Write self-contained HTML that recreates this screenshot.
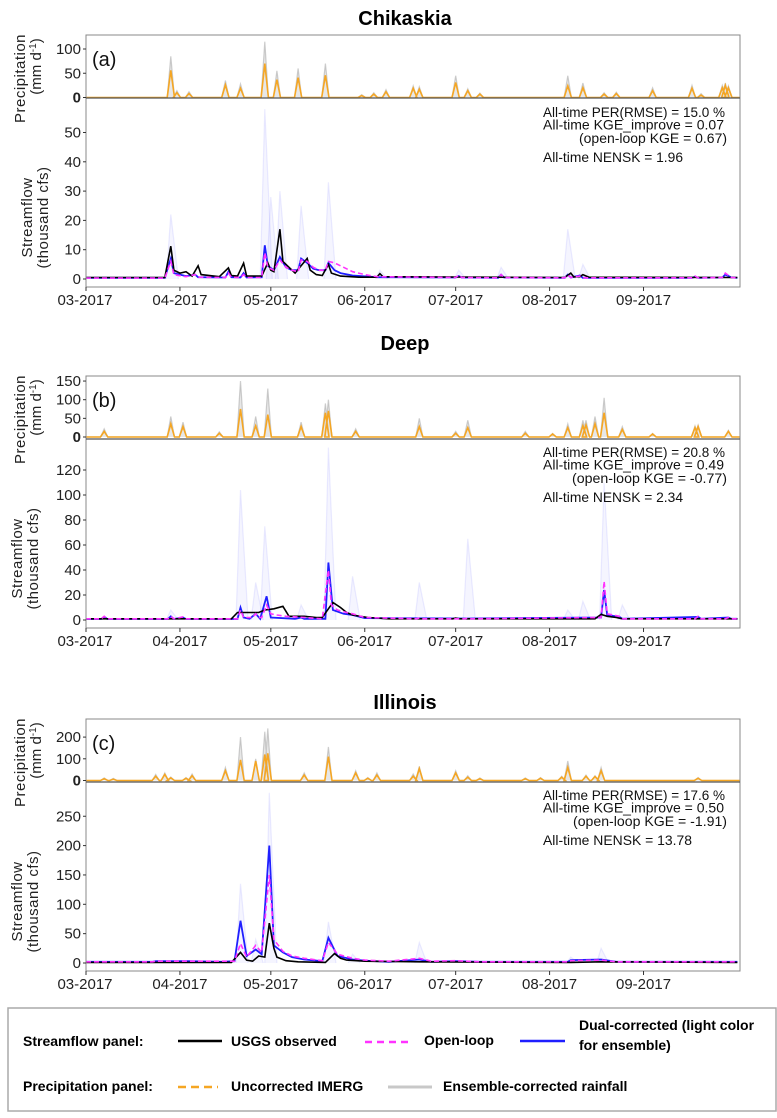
<!DOCTYPE html>
<html><head><meta charset="utf-8"><style>
html,body{margin:0;padding:0;background:#fff;}
svg{display:block;font-family:"Liberation Sans",sans-serif;}
</style></head><body>
<svg id="fig" width="777" height="1118" viewBox="0 0 777 1118" xmlns="http://www.w3.org/2000/svg"></svg>
<script>
// ---------- DATA ----------
const monthLabels = ["03-2017","04-2017","05-2017","06-2017","07-2017","08-2017","09-2017"];
const monthDays = [0,31,61,92,122,153,184];
const panelTitles = ["Chikaskia","Deep","Illinois"];
const panelLetters = ["(a)","(b)","(c)"];
const precipTicksA = [0,50,100];
const precipTicksB = [0,50,100,150];
const precipTicksC = [0,100,200];
const flowTicksA = [0,10,20,30,40,50];
const flowTicksB = [0,20,40,60,80,100,120];
const flowTicksC = [0,50,100,150,200,250];
const statsA = ["All-time PER(RMSE) = 15.0 %","All-time KGE_improve = 0.07","(open-loop KGE = 0.67)","All-time NENSK = 1.96"];
const statsB = ["All-time PER(RMSE) = 20.8 %","All-time KGE_improve = 0.49","(open-loop KGE = -0.77)","All-time NENSK = 2.34"];
const statsC = ["All-time PER(RMSE) = 17.6 %","All-time KGE_improve = 0.50","(open-loop KGE = -1.91)","All-time NENSK = 13.78"];

// precipitation events: [day, IMERG, ensemble max]
const precipA = [[28,56,85],[30,10,14],[34,8,12],[46,26,35],[51,19,28],[59,70,115],[63,37,55],[70,41,60],[79,46,70],[91,4,6],[95,7,10],[99,12,16],[108,19,24],[110,17,22],[122,31,45],[126,14,18],[130,7,9],[159,24,45],[164,20,30],[171,7,10],[175,8,11],[187,14,20],[200,19,25],[203,5,8],[210,20,25],[211,25,30],[212,20,24]];
const precipB = [[6,15,22],[28,35,55],[32,28,40],[44,10,14],[51,75,150],[56,30,55],[60,60,130],[71,28,40],[79,65,90],[80,70,100],[89,15,22],[110,28,50],[122,10,15],[126,25,45],[145,10,15],[154,8,10],[159,25,35],[164,30,45],[165,32,45],[168,35,55],[171,65,105],[177,20,28],[187,8,10],[201,25,30],[202,28,32],[212,15,18]];
const precipC = [[6,8,12],[9,6,10],[23,20,28],[26,28,35],[28,12,16],[33,10,14],[35,22,30],[46,45,60],[51,95,200],[56,90,100],[59,120,225],[60,125,240],[72,25,35],[80,110,155],[89,35,45],[93,10,14],[96,25,35],[108,20,30],[110,55,65],[122,35,45],[126,15,22],[130,8,12],[145,8,12],[150,10,14],[157,15,20],[159,60,90],[165,20,25],[168,18,22],[170,45,60],[202,10,14]];

// streamflow series: [day, thousand cfs]
const obsA = [[0,.5],[26,.5],[28,11.2],[29,3],[31,2],[33,2.5],[35,1],[37,4.5],[38,1.5],[44,.8],[47,3.8],[48,1.2],[50,1],[52,5.4],[53,1],[58,1],[60,5.5],[61,3],[62,2.5],[64,17],[65,6],[67,4],[69,2],[71,4.5],[73,7],[74,3],[76,1.5],[78,1.2],[80,5],[81,2],[84,1],[90,.6],[96,.6],[97,1.8],[98,.8],[158,.5],[160,2],[161,.7],[163,.8],[164,1.5],[166,.6],[215,.5]];
const olA = [[0,.3],[26,.3],[28,6],[29,1.5],[33,.8],[36,1.5],[37,.6],[46,.5],[47,2],[48,.6],[51,.5],[52,1.5],[53,.5],[58,.5],[59,9],[60,4],[62,3],[64,6.5],[66,4],[68,3],[70,2.5],[71,6.5],[73,6],[75,4],[77,3],[79,3],[80,6],[82,5.5],[85,4],[88,2.5],[92,1.5],[96,.8],[122,.5],[123,1.3],[124,.5],[136,.4],[137,1.5],[138,.5],[158,.4],[159,1.3],[160,.5],[163,1],[164,.4],[200,.4],[201,1],[202,.4],[210,.5],[211,2],[213,.5],[215,.4]];
const dcA = [[0,.4],[26,.4],[28,7],[29,2],[33,1],[36,1.5],[37,.6],[46,.5],[47,2.5],[48,.6],[51,.5],[52,2],[53,.5],[58,.6],[59,11.5],[60,4.5],[62,3],[64,7.5],[66,4],[68,3],[70,3],[71,7],[73,5.5],[75,3.5],[77,3],[79,3],[80,5.5],[82,3],[84,2],[88,1.2],[96,.6],[122,.5],[123,1],[124,.5],[136,.4],[137,1.5],[138,.5],[158,.4],[159,1.5],[160,.5],[163,1.2],[164,.4],[200,.4],[201,.8],[202,.4],[210,.5],[211,1.5],[213,.5],[215,.4]];
// ensemble spread peaks: [day, max value]
const ensA = [[28,22],[59,58],[61,28],[64,30],[71,25],[80,33],[97,3],[123,3],[137,4],[159,17],[164,5]];
const ensB = [[28,8],[51,104],[56,30],[59,75],[71,12],[80,138],[88,35],[110,30],[126,65],[159,8],[164,15],[171,110],[177,12]];
const ensC = [[51,135],[56,40],[60.5,290],[80,70],[88,15],[110,35],[160,10],[170,25]];

const obsB = [[0,1],[48,1],[50,6],[55,6],[57,6],[59,8],[62,9],[65,11],[67,3],[72,3],[76,2],[78,2],[80,9],[81.5,14],[84,10],[86,6],[88,4],[93,2],[100,1],[121,1],[122,1.5],[123,1],[168,1],[170,4.5],[172,3],[175,2],[177,1],[215,1]];
const olB = [[0,1],[5,1],[6,3],[7,1],[27,1],[28,3],[29,1],[32,2.5],[33,1],[50,1],[51,8],[52,2],[55,2],[56,5],[57,2],[58,2],[59.6,12],[61,5],[63,4],[66,3],[72,2],[78,1],[80,40],[81,12],[83,8],[86,6],[88,5],[92,2],[109,1],[110,1.5],[111,1],[125,1],[126,1.5],[127,1],[170,2],[171,31],[172,5],[176,3],[177,1],[201,1],[202,3],[203,1],[211,1],[212,2],[213,1],[215,1]];
const dcB = [[0,.8],[5,.8],[6,2.5],[7,.8],[27,.8],[28,3],[29,.8],[32,2],[33,.8],[50,.8],[51,10],[52,2],[54,1],[56,5],[57.5,1],[59.6,19],[61,2],[69,1],[71,2],[72,1],[79,1],[80,46],[81.5,8],[85,5],[88,4],[92,1.5],[126,1.2],[170,2],[171,24],[172,4],[176,2.5],[177,1],[202,2.5],[203,1],[212,2],[213,1],[215,1]];

const obsC = [[0,1],[48,1],[51,18],[53,5],[55,3],[57,12],[59,10],[60.5,68],[62,25],[63,10],[66,4],[70,2],[79,1],[82,16],[84,8],[86,5],[92,3],[110,2],[160,1],[170,2],[215,1]];
const olC = [[0,2],[22,2],[23,3],[34,3],[45,3],[49,3],[51,33],[53,10],[56,30],[58,18],[60.5,150],[62,40],[65,20],[68,12],[72,8],[78,4],[80,35],[83,15],[88,8],[92,5],[100,3],[110,8],[114,3],[122,4],[130,2],[159,2],[160,4],[170,5],[175,2],[215,2]];
const dcC = [[0,2],[22,2],[23,3],[34,3],[45,2],[49,3],[51,72],[53,12],[56,23],[58,15],[60.5,200],[62,30],[65,18],[68,10],[72,6],[78,3],[80,43],[83,12],[88,6],[92,4],[100,2],[110,6],[114,2],[122,3],[130,2],[159,2],[160,5],[170,6],[175,2],[215,2]];

// ---------- RENDER ----------
const NS = "http://www.w3.org/2000/svg";
const svg = document.getElementById("fig");
function mk(tag, attrs, parent){
  const e = document.createElementNS(NS, tag);
  for (const k in attrs) e.setAttribute(k, attrs[k]);
  (parent||svg).appendChild(e);
  return e;
}
const X0 = 86, X1 = 740, PXD = 3.03;
function xs(d){ return X0 + d*PXD; }

const panels = [
 {id:"a", titleY:25, pTop:35, div:98, pZero:97.5, pScale:0.485, sZero:279, sScale:2.93, bottom:287, dateY:305,
  pt:precipTicksA, ft:flowTicksA, precip:precipA, obs:obsA, ol:olA, dc:dcA, ens:ensA, stats:statsA, statY:112, title:panelTitles[0], letter:panelLetters[0], sTitleX:32},
 {id:"b", titleY:350, pTop:376, div:439, pZero:437, pScale:0.373, sZero:620, sScale:1.25, bottom:628, dateY:646,
  pt:precipTicksB, ft:flowTicksB, precip:precipB, obs:obsB, ol:olB, dc:dcB, ens:ensB, stats:statsB, statY:452, title:panelTitles[1], letter:panelLetters[1], sTitleX:22},
 {id:"c", titleY:709, pTop:719, div:782, pZero:780.5, pScale:0.217, sZero:963, sScale:0.587, bottom:971, dateY:989,
  pt:precipTicksC, ft:flowTicksC, precip:precipC, obs:obsC, ol:olC, dc:dcC, ens:ensC, stats:statsC, statY:795, title:panelTitles[2], letter:panelLetters[2], sTitleX:22}
];
const statLens = [[182,181,148,140],[182,181,155,140],[182,181,154,149]];

const defs = mk("defs", {});
panels.forEach((p,pi) => {
  const g = mk("g", {});
  
  
  const cp = mk("clipPath", {id:"cp"+p.id}, defs);
  mk("rect", {x:X0, y:p.pTop, width:X1-X0, height:p.div-p.pTop}, cp);
  const cs = mk("clipPath", {id:"cs"+p.id}, defs);
  mk("rect", {x:X0, y:p.div+1, width:X1-X0, height:p.bottom-p.div-1}, cs);

  const t = mk("text", {x:405, y:p.titleY, "text-anchor":"middle", "font-size":"20", "font-weight":"bold"}, g);
  t.textContent = p.title;
  
  

  const py = v => p.pZero - v*p.pScale;
  const sy = v => p.sZero - v*p.sScale;

  const pg = mk("g", {"clip-path":"url(#cp"+p.id+")"}, g);
  function precipPath(idx){
    let pts = [[xs(0),py(0)]];
    p.precip.forEach(ev => { pts.push([xs(ev[0]-1.2),py(0)],[xs(ev[0]),py(ev[idx])],[xs(ev[0]+1.2),py(0)]); });
    pts.push([xs(216),py(0)]);
    return pts.map(q=>q[0].toFixed(1)+","+q[1].toFixed(1)).join(" ");
  }
  const gl = mk("polyline", {points:precipPath(2), fill:"rgba(160,160,160,0.25)", stroke:"rgba(150,150,150,0.45)", "stroke-width":"1.2"}, pg);
  
  
  const ol = mk("polyline", {points:precipPath(1), fill:"none", stroke:"#f5a623", "stroke-width":"1.6"}, pg);
  
  

  const sg = mk("g", {"clip-path":"url(#cs"+p.id+")"}, g);
  const ptsOf = arr => arr.map(q=>xs(q[0]).toFixed(1)+","+sy(q[1]).toFixed(1)).join(" ");
  p.ens.forEach(ev => {
    const pts = [[ev[0]-1.5,0],[ev[0],ev[1]],[ev[0]+2.5,0]].map(q=>xs(q[0]).toFixed(1)+","+sy(q[1]).toFixed(1)).join(" ");
    const en = mk("polyline", {points:pts, fill:"rgba(120,120,255,0.07)", stroke:"rgba(120,120,255,0.14)", "stroke-width":"1.2"}, sg);
    
    
  });
  const dcl = mk("polyline", {points:ptsOf(p.dc), fill:"none", stroke:"#1f1fff", "stroke-width":"1.8"}, sg);
  
  
  const ob = mk("polyline", {points:ptsOf(p.obs), fill:"none", stroke:"#000", "stroke-width":"1.6"}, sg);
  
  
  const oll = mk("polyline", {points:ptsOf(p.ol), fill:"none", stroke:"#ff33ff", "stroke-width":"1.6", "stroke-dasharray":"5,3"}, sg);
  
  

  mk("rect", {x:X0, y:p.pTop, width:X1-X0, height:p.div-p.pTop, fill:"none", stroke:"#888", "stroke-width":"1"}, g);
  mk("rect", {x:X0, y:p.div, width:X1-X0, height:p.bottom-p.div, fill:"none", stroke:"#888", "stroke-width":"1"}, g);
  mk("line", {x1:X0, x2:X1, y1:p.div, y2:p.div, stroke:"#555", "stroke-width":"1.2"}, g);

  p.pt.forEach(v => {
    mk("line", {x1:X0-3, x2:X0, y1:py(v), y2:py(v), stroke:"#333"}, g);
    const tt = mk("text", {x:X0-5, y:py(v)+5, "text-anchor":"end", "font-size":"15", fill:"#222", "font-weight": v===0?"bold":"normal"}, g);
    tt.textContent = v;
    
    
  });
  p.ft.forEach(v => {
    mk("line", {x1:X0-3, x2:X0, y1:sy(v), y2:sy(v), stroke:"#333"}, g);
    const tt = mk("text", {x:X0-5, y:sy(v)+5, "text-anchor":"end", "font-size":"15", fill:"#222"}, g);
    tt.textContent = v;
    
    
  });
  monthDays.forEach((d,i) => {
    mk("line", {x1:xs(d), x2:xs(d), y1:p.bottom, y2:p.bottom+4, stroke:"#333"}, g);
    const tt = mk("text", {x:xs(d)-(i===0?1:0), y:p.dateY, "text-anchor":"middle", "font-size":"15", fill:"#222"}, g);
    tt.textContent = monthLabels[i];
    
    
  });
  const pc = (p.pTop+p.div)/2 + 12;
  const a1 = mk("text", {x:0, y:0, transform:"translate(25,"+pc+") rotate(-90)", "text-anchor":"middle", "font-size":"15", fill:"#222", "letter-spacing":"0.5"}, g);
  a1.textContent = "Precipitation";
  
  
  const a2 = mk("text", {x:0, y:0, transform:"translate(41,"+(pc-12)+") rotate(-90)", "text-anchor":"middle", "font-size":"15", fill:"#222"}, g);
  a2.innerHTML = "(mm d<tspan dy='-5' font-size='10'>-1</tspan><tspan dy='5'>)</tspan>";
  
  
  const sc = (p.div+p.bottom)/2 + 25;
  const a3 = mk("text", {x:0, y:0, transform:"translate("+(p.sTitleX)+","+sc+") rotate(-90)", "text-anchor":"middle", "font-size":"15", fill:"#222", "letter-spacing":"0.5"}, g);
  a3.textContent = "Streamflow";
  
  
  const a4 = mk("text", {x:0, y:0, transform:"translate("+(p.sTitleX+16)+","+sc+") rotate(-90)", "text-anchor":"middle", "font-size":"15", fill:"#222", "letter-spacing":"0.5"}, g);
  a4.textContent = "(thousand cfs)";
  
  
  const lt = mk("text", {x:92, y:p.pTop+31, "font-size":"20", fill:"#111"}, g);
  lt.textContent = p.letter;
  
  
  const sYs = [p.statY, p.statY+12.5, p.statY+26, p.statY+45];
  p.stats.forEach((s,i) => {
    const L = statLens[pi][i];
    const st = mk("text", {x: i===2?727-L:543, y:sYs[i]+5, "font-size":"14", fill:"#111", textLength:L, lengthAdjust:"spacingAndGlyphs"}, g);
    st.textContent = s;
    
    
  });
});
</script>
<svg style="position:absolute;left:0;top:1005px" width="777" height="110" xmlns="http://www.w3.org/2000/svg" font-family="Liberation Sans, sans-serif">
  <rect x="8" y="3" width="768" height="103" fill="#fff" stroke="#aaa" stroke-width="1.5"/>
  <text x="23" y="41" font-size="14" font-weight="bold">Streamflow panel:</text>
  <line x1="178" x2="222" y1="36" y2="36" stroke="#000" stroke-width="2.5"/>
  <text x="231" y="41" font-size="14" font-weight="bold">USGS observed</text>
  <line x1="365" x2="410" y1="37" y2="37" stroke="#ff33ff" stroke-width="2.5" stroke-dasharray="7,5"/>
  <text x="424" y="40" font-size="14" font-weight="bold">Open-loop</text>
  <line x1="520" x2="565" y1="36" y2="36" stroke="#1f1fff" stroke-width="2.5"/>
  <text x="579" y="25" font-size="14" font-weight="bold">Dual-corrected (light color</text>
  <text x="579" y="45" font-size="14" font-weight="bold">for ensemble)</text>
  <text x="23" y="86" font-size="14" font-weight="bold">Precipitation panel:</text>
  <line x1="178" x2="218" y1="82" y2="82" stroke="#f5a623" stroke-width="2.5" stroke-dasharray="8,5"/>
  <text x="231" y="86" font-size="14" font-weight="bold">Uncorrected IMERG</text>
  <line x1="388" x2="432" y1="82" y2="82" stroke="#c8c8c8" stroke-width="3"/>
  <text x="443" y="86" font-size="14" font-weight="bold">Ensemble-corrected rainfall</text>
</svg>
</body></html>
